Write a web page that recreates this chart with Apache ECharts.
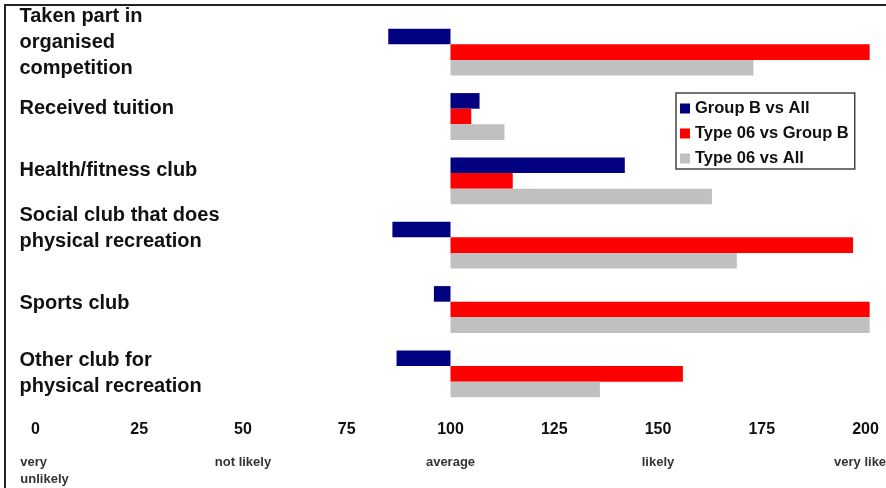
<!DOCTYPE html>
<html>
<head>
<meta charset="utf-8">
<script src="https://cdn.jsdelivr.net/npm/echarts@6/dist/echarts.min.js"></script>
<style>
  html, body { margin: 0; padding: 0; background: #fff; }
  #chart { position: absolute; left: 0; top: 0; width: 886px; height: 488px; }
  #frame { position: absolute; left: 4px; top: 4px; width: 900px; height: 500px;
           border-left: 2px solid #222; border-top: 2px solid #222; pointer-events: none; }
</style>
</head>
<body>
<div id="chart"></div>
<div id="frame"></div>
<script>
// ---- data ----
const categories = [
  'Taken part in\norganised\ncompetition',
  'Received tuition',
  'Health/fitness club',
  'Social club that does\nphysical recreation',
  'Sports club',
  'Other club for\nphysical recreation'
];
const seriesNames = ['Group B vs All', 'Type 06 vs Group B', 'Type 06 vs All'];
const groupBvsAll    = [85, 107, 142, 86, 96, 87];
const type06vsGroupB = [201, 105, 115, 197, 201, 156];
const type06vsAll    = [173, 113, 163, 169, 201, 136];
const tickValues = [0, 25, 50, 75, 100, 125, 150, 175, 200];
const scaleWords = {
  0: '     very      \n     unlikely',
  50: 'not likely', 100: 'average', 150: 'likely', 200: 'very likely'
};
const baseline = 100; // bars grow from the "average" index

// ---- layout (not data) ----
const labelLift = [10, 8, 10, 17, 6, 0];
const colors = ['#000080', '#FF0000', '#C0C0C0'];

const chart = echarts.init(document.getElementById('chart'), null, { renderer: 'canvas' });
const allSeries = [groupBvsAll, type06vsGroupB, type06vsAll];

const catRich = {
  a: { fontFamily: 'Liberation Sans, Arial, sans-serif', fontWeight: 'bold', fontSize: 20, lineHeight: 26, color: '#111' }
};
labelLift.forEach((d, i) => {
  catRich['g' + i] = { fontSize: 1, lineHeight: Math.max(1, 2 * d) };
});

const option = {
  animation: false,
  backgroundColor: '#fff',
  grid: { left: 35.5, right: 20.5, top: 20, bottom: 82, containLabel: false, outerBoundsMode: 'none' },
  legend: {
    orient: 'vertical',
    left: 676, top: 93,
    padding: [7, 6, 2, 4],
    itemGap: 8,
    itemWidth: 10, itemHeight: 10,
    icon: 'rect',
    borderColor: '#444', borderWidth: 1.5,
    backgroundColor: '#fff',
    textStyle: { fontFamily: 'Liberation Sans, Arial, sans-serif', fontWeight: 'bold', fontSize: 16.5, color: '#111' },
    data: seriesNames
  },
  xAxis: [
    {
      type: 'value',
      min: tickValues[0] - baseline,
      max: tickValues[tickValues.length - 1] - baseline,
      interval: 25,
      axisLine: { show: false }, axisTick: { show: false }, splitLine: { show: false },
      axisLabel: {
        margin: 16,
        fontFamily: 'Liberation Sans Narrow, Liberation Sans, Arial, sans-serif',
        fontWeight: 'bold', fontSize: 16, color: '#111',
        formatter: v => String(v + baseline)
      }
    },
    {
      type: 'value',
      position: 'bottom',
      offset: 40,
      min: tickValues[0] - baseline,
      max: tickValues[tickValues.length - 1] - baseline,
      interval: 50,
      axisLine: { show: false }, axisTick: { show: false }, splitLine: { show: false },
      axisLabel: {
        margin: 8,
        fontFamily: 'Liberation Sans, Arial, sans-serif',
        fontWeight: 'bold', fontSize: 13, lineHeight: 17, color: '#333',
        formatter: v => scaleWords[v + baseline] || ''
      }
    }
  ],
  yAxis: {
    type: 'category',
    inverse: true,
    data: categories,
    axisLine: { show: false }, axisTick: { show: false }, splitLine: { show: false },
    axisLabel: {
      align: 'left',
      margin: 16,
      interval: 0,
      formatter: (value, index) =>
        value.split('\n').map(line => '{a|' + line + '}').join('\n') + '\n{g' + index + '|\u00a0}',
      rich: catRich
    }
  },
  series: allSeries.map((arr, si) => ({
    name: seriesNames[si],
    type: 'bar',
    xAxisIndex: 0,
    clip: false,
    barWidth: 15.6,
    barGap: '0%',
    itemStyle: { color: colors[si] },
    data: arr.map(v => v - baseline)
  }))
};
chart.setOption(option);
</script>
</body>
</html>
